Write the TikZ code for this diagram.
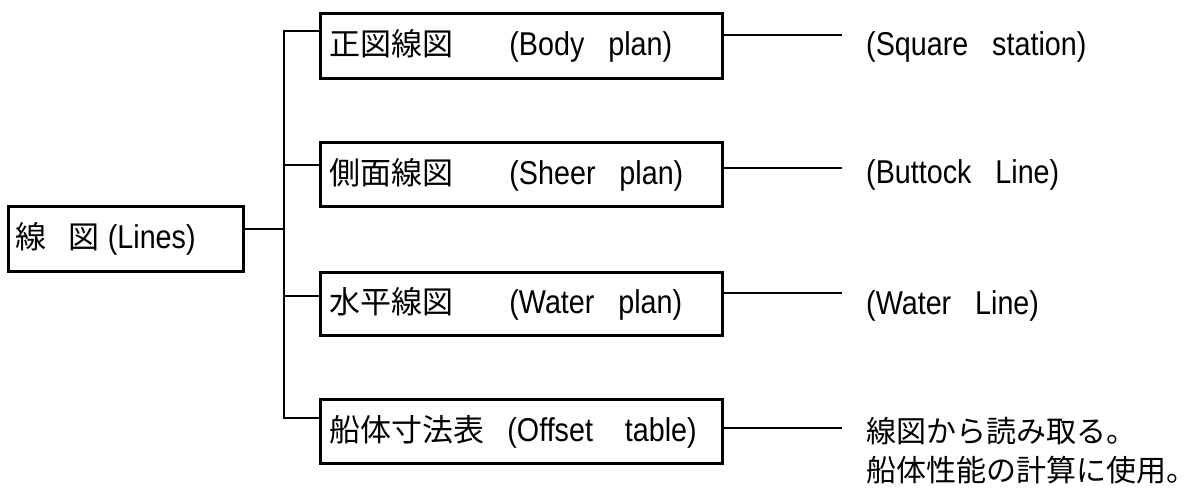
\documentclass[tikz,border=0pt]{standalone}
\usepackage{fontspec}
\setmainfont{Liberation Sans}[FakeStretch=0.87]
\newfontfamily\cjk{Noto Sans CJK JP}
\newcommand{\jp}[1]{{\cjk\fontsize{31}{36}\selectfont #1}}
\newcommand{\jps}[1]{{\cjk\fontsize{30}{36}\selectfont #1}}
\begin{document}
\begin{tikzpicture}[x=1pt,y=-1pt,
  lw/.style={line width=2.8pt},
  box/.style={draw,lw,rectangle,inner sep=0pt,anchor=north west,minimum height=65pt},
  lab/.style={anchor=west,inner sep=0pt},
  font=\fontsize{33}{40}\selectfont]
\useasboundingbox (0,0) rectangle (1199,495);
% main box
\node[box,minimum width=235pt] (L) at (7,205)
  {\makebox[220pt][l]{\jp{線}\hspace{22pt}\jp{図} (Lines)}};
% sub boxes
\node[box,minimum width=402pt] (b1) at (319,12)
  {\makebox[384pt][l]{\makebox[180pt][l]{\jp{正図線図}}(Body\ \ \ plan)}};
\node[box,minimum width=402pt,minimum height=64pt] (b2) at (319,141)
  {\makebox[384pt][l]{\makebox[180pt][l]{\jp{側面線図}}(Sheer\ \ \ plan)}};
\node[box,minimum width=402pt,minimum height=63pt] (b3) at (319,271)
  {\makebox[384pt][l]{\makebox[180pt][l]{\jp{水平線図}}(Water\ \ \ plan)}};
\node[box,minimum width=402pt,minimum height=64pt] (b4) at (319,398)
  {\makebox[384pt][l]{\makebox[178pt][l]{\jp{船体寸法表}}(Offset\ \ \ \ table)}};
% right labels
\node[lab] (r1) at (866,47) {(Square\ \ \ station)};
\node[lab] (r2) at (866,175) {(Buttock\ \ \ Line)};
\node[lab] (r3) at (866,306) {(Water\ \ \ Line)};
\node[lab] (r4) at (866,431) {\jps{線図から読み取る。}};
\node[lab] (r5) at (866,470) {\jps{船体性能の計算に使用。}};
% trunk coordinates
\coordinate (t1) at (284,31);
\coordinate (t2) at (284,165);
\coordinate (t3) at (284,296);
\coordinate (t4) at (284,418);
\coordinate (j) at (284,229);
% right ends
\coordinate (e1) at (842,35);
\coordinate (e2) at (842,168);
\coordinate (e3) at (842,293);
\coordinate (e4) at (842,428);
% connectors
\draw[lw] (b1.west |- t1) -- (t1) -- (t4) -- (b4.west |- t4);
\draw[lw] (t2) -- (b2.west |- t2);
\draw[lw] (t3) -- (b3.west |- t3);
\draw[lw] (j -| L.east) -- (j);
\draw[lw] (e1 -| b1.east) -- (e1);
\draw[lw] (e2 -| b2.east) -- (e2);
\draw[lw] (e3 -| b3.east) -- (e3);
\draw[lw] (e4 -| b4.east) -- (e4);
\end{tikzpicture}
\end{document}
